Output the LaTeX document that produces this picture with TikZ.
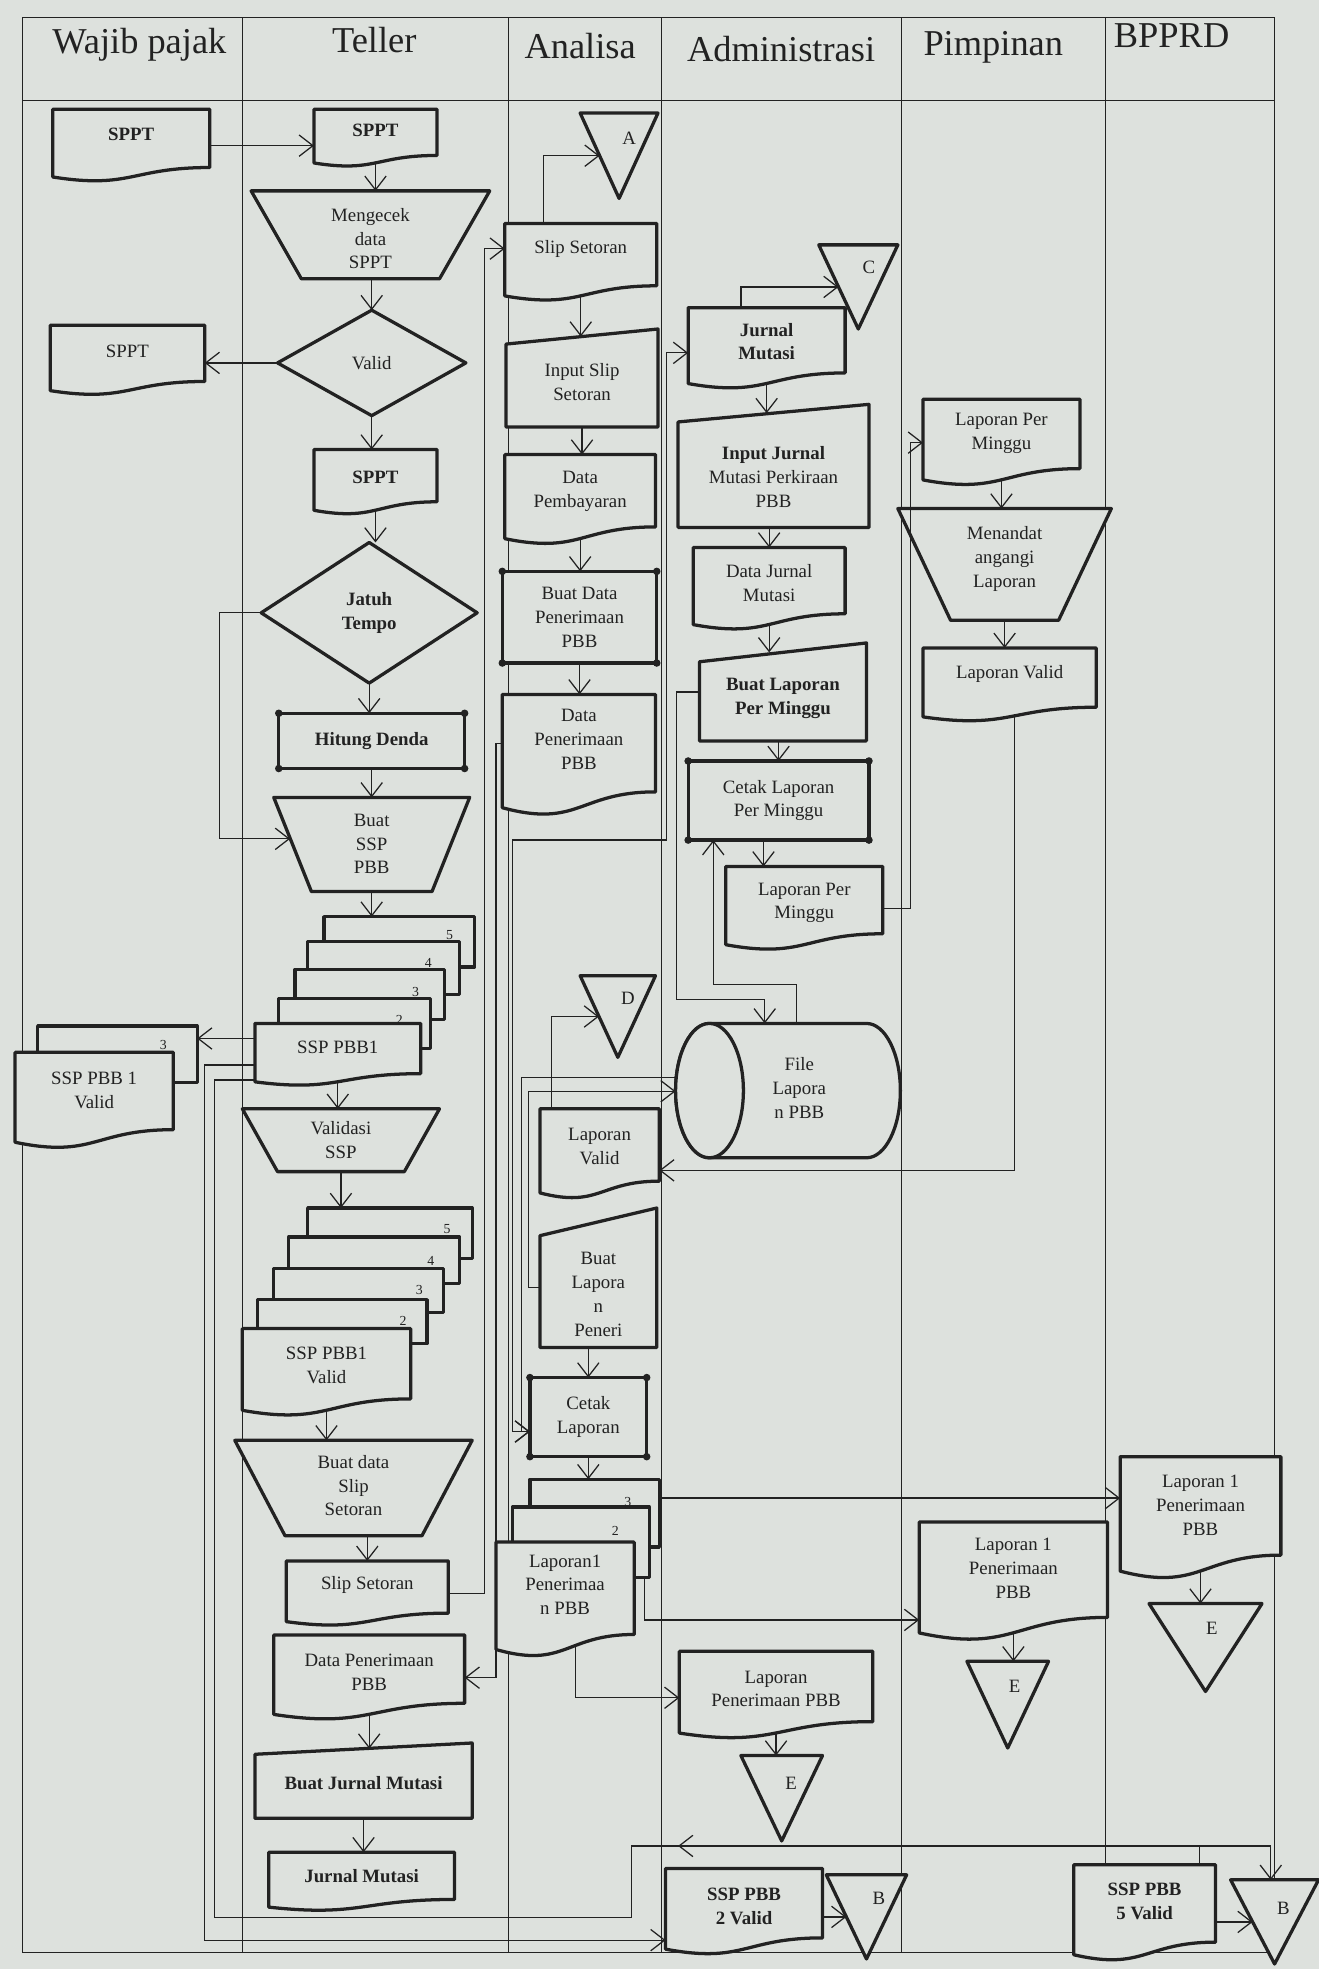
\documentclass[tikz,border=0pt]{standalone}
\usepackage{fontspec}
\setmainfont{Liberation Serif}
\usetikzlibrary{arrows.meta,calc}
\definecolor{paper}{RGB}{221,225,221}
\definecolor{ink}{RGB}{34,34,34}
\tikzset{
  shp/.style={draw=ink,line width=2.6pt,fill=paper,line join=round},
  fcbox/.style={rectangle,draw=none,inner sep=0pt,outer sep=0pt},
  txt/.style={align=center,inner sep=0pt,text=ink,font=\fontsize{15}{19}\selectfont},
  num/.style={inner sep=0pt,text=ink,font=\fontsize{11}{12}\selectfont},
  lane/.style={draw=ink,line width=0.7pt},
  conn/.style={draw=ink,line width=1pt},
  arr/.style={conn,-{Straight Barb[length=11pt,width=17pt]}},
  darr/.style={conn,{Straight Barb[length=11pt,width=17pt]}-{Straight Barb[length=11pt,width=17pt]}},
  lanetitle/.style={inner sep=0pt,text=ink,font=\fontsize{29}{32}\selectfont},
}
% document: name,x1,y1,x2,y2,text y,text
\newcommand\fcDoc[7]{%
  \pgfmathsetmacro\fcW{#4-#2}\pgfmathsetmacro\fcH{#5-#3}%
  \pgfmathsetmacro\fcCx{(#2+#4)/2}\pgfmathsetmacro\fcCy{(#3+#5)/2}%
  \path[shp] (#2,#3) -- (#4,#3) -- (#4,{#3+0.8*\fcH}) .. controls ({#2+0.5*\fcW},{#3+0.8*\fcH}) and ({#2+0.5*\fcW},{#3+1.1*\fcH}) .. (#2,{#3+0.93*\fcH}) -- cycle;
  \node[fcbox,minimum width=\fcW,minimum height=\fcH] (#1) at (\fcCx,\fcCy) {};
  \node[txt] (#1-t) at (\fcCx,#6) {#7};
  \coordinate (#1-b) at (\fcCx,{#3+0.93*\fcH});
}
% manual operation: name,x1,y1,x2,y2,inset,text y,text
\newcommand\fcTrap[8]{%
  \pgfmathsetmacro\fcW{#4-#2}\pgfmathsetmacro\fcH{#5-#3}%
  \pgfmathsetmacro\fcCx{(#2+#4)/2}\pgfmathsetmacro\fcCy{(#3+#5)/2}%
  \path[shp] (#2,#3) -- (#4,#3) -- ({#4-#6},#5) -- ({#2+#6},#5) -- cycle;
  \node[fcbox,minimum width=\fcW,minimum height=\fcH] (#1) at (\fcCx,\fcCy) {};
  \node[txt] (#1-t) at (\fcCx,#7) {#8};
}
% manual input: name,x1,y1,x2,y2,slant,text y,text
\newcommand\fcMan[8]{%
  \pgfmathsetmacro\fcW{#4-#2}\pgfmathsetmacro\fcH{#5-#3}%
  \pgfmathsetmacro\fcCx{(#2+#4)/2}\pgfmathsetmacro\fcCy{(#3+#5)/2}%
  \path[shp] (#2,{#3+#6}) -- (#4,#3) -- (#4,#5) -- (#2,#5) -- cycle;
  \node[fcbox,minimum width=\fcW,minimum height=\fcH] (#1) at (\fcCx,\fcCy) {};
  \node[txt] (#1-t) at (\fcCx,#7) {#8};
  \coordinate (#1-top) at (\fcCx,{#3+0.5*#6});
}
% predefined process: name,x1,y1,x2,y2,text
\newcommand\fcPre[6]{%
  \pgfmathsetmacro\fcW{#4-#2}\pgfmathsetmacro\fcH{#5-#3}%
  \pgfmathsetmacro\fcCx{(#2+#4)/2}\pgfmathsetmacro\fcCy{(#3+#5)/2}%
  \path[shp] (#2,#3) rectangle (#4,#5);
  \fill[ink] (#2,#3) circle (3);
  \fill[ink] (#4,#3) circle (3);
  \fill[ink] (#2,#5) circle (3);
  \fill[ink] (#4,#5) circle (3);
  \node[fcbox,txt,minimum width=\fcW,minimum height=\fcH] (#1) at (\fcCx,\fcCy) {#6};
}
% decision: name,cx,cy,half w,half h,text
\newcommand\fcDia[6]{%
  \pgfmathsetmacro\fcW{2*#4}\pgfmathsetmacro\fcH{2*#5}%
  \path[shp] ({#2-#4},#3) -- (#2,{#3-#5}) -- ({#2+#4},#3) -- (#2,{#3+#5}) -- cycle;
  \node[fcbox,txt,minimum width=\fcW,minimum height=\fcH] (#1) at (#2,#3) {#6};
}
% off-page connector: name,x1,y1,x2,y2,letter,lx,ly
\newcommand\fcTri[8]{%
  \pgfmathsetmacro\fcW{#4-#2}\pgfmathsetmacro\fcH{#5-#3}%
  \pgfmathsetmacro\fcCx{(#2+#4)/2}\pgfmathsetmacro\fcCy{(#3+#5)/2}%
  \path[shp] (#2,#3) -- (#4,#3) -- (\fcCx,#5) -- cycle;
  \node[fcbox,minimum width=\fcW,minimum height=\fcH] (#1) at (\fcCx,\fcCy) {};
  \node[txt] (#1-t) at (#7,#8) {#6};
  \coordinate (#1-l) at ({#2+0.5*(\fcCx-#2)},{#3+0.5*\fcH});
}
% back sheet: name,x1,y1,x2,y2
\newcommand\fcSheet[5]{%
  \pgfmathsetmacro\fcW{#4-#2}\pgfmathsetmacro\fcH{#5-#3}%
  \pgfmathsetmacro\fcCx{(#2+#4)/2}\pgfmathsetmacro\fcCy{(#3+#5)/2}%
  \path[shp] (#2,#3) rectangle (#4,#5);
  \node[fcbox,minimum width=\fcW,minimum height=\fcH] (#1) at (\fcCx,\fcCy) {};
}
% storage cylinder: name,x1,y1,x2,y2,rx,text
\newcommand\fcCyl[7]{%
  \pgfmathsetmacro\fcW{#4-#2}\pgfmathsetmacro\fcH{#5-#3}%
  \pgfmathsetmacro\fcCx{(#2+#4)/2}\pgfmathsetmacro\fcCy{(#3+#5)/2}%
  \pgfmathsetmacro\fcRy{(#5-#3)/2}%
  \path[shp] ({#2+#6},#3) -- ({#4-#6},#3) arc[start angle=-90,end angle=90,x radius=#6,y radius=\fcRy] -- ({#2+#6},#5) arc[start angle=90,end angle=270,x radius=#6,y radius=\fcRy] -- cycle;
  \path[shp] ({#2+#6},\fcCy) ellipse [x radius=#6,y radius=\fcRy];
  \node[fcbox,minimum width=\fcW,minimum height=\fcH] (#1) at (\fcCx,\fcCy) {};
  \node[txt] (#1-t) at ({\fcCx+9},{\fcCy-2}) {#7};
}
\begin{document}
\begin{tikzpicture}[x=1pt,y=-1pt]
\fill[paper] (0,0) rectangle (1050,1568);
\useasboundingbox (0,0) rectangle (1050,1568);
% lanes
\draw[lane] (18,14) rectangle (1015,1555);
\draw[lane] (18,80) -- (1015,80);
\foreach \lx in {193,405,527,718,880} \draw[lane] (\lx,14) -- (\lx,1555);
\node[lanetitle] (ttl1) at (111,36) {Wajib pajak};
\node[lanetitle] (ttl2) at (298,32) {Teller};
\node[lanetitle] (ttl3) at (462,37) {Analisa};
\node[lanetitle] (ttl4) at (622,39) {Administrasi};
\node[lanetitle] (ttl5) at (791,38) {Pimpinan};
\node[lanetitle] (ttl6) at (933,28) {BPPRD};

% Wajib pajak / Teller
\fcDoc{w1}{42}{87}{167}{145}{107}{\textbf{SPPT}}
\fcDoc{t1}{250}{87}{348}{133}{104}{\textbf{SPPT}}
\fcTrap{mengecek}{200}{152}{390}{222}{40}{190}{Mengecek\\data\\SPPT}
\fcDia{valid}{296}{289}{75}{42}{Valid}
\fcDoc{w2}{40}{259}{163}{315}{280}{SPPT}
\fcDoc{t2}{250}{358}{348}{410}{380}{\textbf{SPPT}}
\fcDia{jatuh}{294}{488}{86}{56}{\textbf{Jatuh}\\\textbf{Tempo}}
\fcPre{hitung}{222}{568}{370}{612}{\textbf{Hitung Denda}}
\fcTrap{buatssp}{218}{635}{374}{710}{30}{672}{Buat\\SSP\\PBB}
\fcSheet{ssp1s5}{258}{730}{378}{770}
\fcSheet{ssp1s4}{245}{750}{366}{792}
\fcSheet{ssp1s3}{235}{772}{354}{812}
\fcSheet{ssp1s2}{222}{795}{343}{835}
\fcDoc{ssp1}{203}{815}{335}{865}{834}{SSP PBB1}
\node[num] (ssp1n5) at (358,745) {5};
\node[num] (ssp1n4) at (341,767) {4};
\node[num] (ssp1n3) at (331,790) {3};
\node[num] (ssp1n2) at (318,812) {2};
\fcSheet{sspWs}{30}{817}{157}{862}
\fcDoc{sspW}{12}{838}{138}{915}{868}{SSP PBB 1\\Valid}
\node[num] (sspWn) at (130,832) {3};
\fcTrap{validasi}{193}{883}{350}{933}{28}{908}{Validasi\\SSP}
\fcSheet{ssp1vs5}{245}{962}{376}{1002}
\fcSheet{ssp1vs4}{230}{985}{366}{1022}
\fcSheet{ssp1vs3}{218}{1010}{353}{1045}
\fcSheet{ssp1vs2}{205}{1035}{340}{1070}
\fcDoc{ssp1v}{193}{1058}{327}{1128}{1087}{SSP PBB1\\Valid}
\node[num] (ssp1vn5) at (356,979) {5};
\node[num] (ssp1vn4) at (343,1004) {4};
\node[num] (ssp1vn3) at (334,1027) {3};
\node[num] (ssp1vn2) at (321,1052) {2};
\fcTrap{buatslip}{187}{1147}{376}{1223}{40}{1183}{Buat data\\Slip\\Setoran}
\fcDoc{slipT}{228}{1243}{357}{1295}{1262}{Slip Setoran}
\fcDoc{dataPenT}{218}{1302}{370}{1370}{1332}{Data Penerimaan\\PBB}
\fcMan{buatJM}{203}{1388}{376}{1448}{9}{1420}{\textbf{Buat Jurnal Mutasi}}
\fcDoc{jmT}{214}{1475}{362}{1522}{1494}{\textbf{Jurnal Mutasi}}

% Analisa
\fcTri{A}{462}{90}{524}{158}{A}{501}{110}
\fcDoc{slipA}{402}{178}{523}{240}{198}{Slip Setoran}
\fcMan{inputSlip}{403}{262}{524}{340}{12}{304}{Input Slip\\Setoran}
\fcDoc{dataBayar}{402}{362}{522}{434}{391}{Data\\Pembayaran}
\fcPre{buatDataPen}{400}{455}{523}{528}{Buat Data\\Penerimaan\\PBB}
\fcDoc{dataPenA}{400}{553}{522}{650}{589}{Data\\Penerimaan\\PBB}
\fcTri{D}{462}{777}{522}{842}{D}{500}{795}
\fcDoc{lapValidA}{430}{883}{525}{955}{913}{Laporan\\Valid}
\fcMan{buatLapPen}{430}{962}{523}{1073}{22}{1031}{Buat\\Lapora\\n\\Peneri}
\fcPre{cetakLap}{422}{1097}{515}{1160}{Cetak\\Laporan}
\fcSheet{lap1s3}{422}{1178}{525}{1232}
\fcSheet{lap1s2}{408}{1200}{517}{1256}
\fcDoc{lap1}{395}{1228}{505}{1320}{1262}{Laporan1\\Penerimaa\\n PBB}
\node[num] (lap1n3) at (500,1196) {3};
\node[num] (lap1n2) at (490,1219) {2};

% Administrasi
\fcTri{C}{652}{195}{715}{262}{C}{692}{213}
\fcDoc{jmA}{548}{245}{673}{310}{272}{\textbf{Jurnal}\\\textbf{Mutasi}}
\fcMan{inputJM}{540}{322}{692}{420}{14}{380}{\textbf{Input Jurnal}\\Mutasi Perkiraan\\PBB}
\fcDoc{dataJM}{552}{436}{673}{502}{464}{Data Jurnal\\Mutasi}
\fcMan{buatLapMing}{557}{512}{690}{590}{15}{556}{\textbf{Buat Laporan}\\\textbf{Per Minggu}}
\fcPre{cetakLapMing}{548}{606}{692}{669}{Cetak Laporan\\Per Minggu}
\fcDoc{lapMingA}{578}{690}{703}{757}{719}{Laporan Per\\Minggu}
\fcCyl{file}{538}{815}{717}{922}{27}{File\\Lapora\\n PBB}
\fcDoc{lapPenA}{541}{1315}{695}{1385}{1345}{Laporan\\Penerimaan PBB}
\fcTri{E1}{590}{1398}{655}{1466}{E}{630}{1420}
\fcDoc{ssp2}{530}{1488}{655}{1557}{1518}{\textbf{SSP PBB}\\\textbf{2 Valid}}
\fcTri{B1}{658}{1493}{722}{1560}{B}{700}{1512}

% Pimpinan
\fcDoc{lapMingP}{735}{318}{860}{387}{345}{Laporan Per\\Minggu}
\fcTrap{menandat}{715}{405}{885}{494}{42}{445}{Menandat\\angangi\\Laporan}
\fcDoc{lapValidP}{735}{516}{873}{575}{537}{Laporan Valid}
\fcDoc{lap1P}{732}{1212}{882}{1307}{1249}{Laporan 1\\Penerimaan\\PBB}
\fcTri{E2}{770}{1323}{835}{1392}{E}{808}{1343}

% BPPRD
\fcDoc{lap1B}{892}{1160}{1020}{1258}{1199}{Laporan 1\\Penerimaan\\PBB}
\fcTri{E3}{915}{1277}{1005}{1347}{E}{965}{1297}
\fcDoc{ssp5}{855}{1485}{968}{1562}{1514}{\textbf{SSP PBB}\\\textbf{5 Valid}}
\fcTri{B2}{980}{1497}{1050}{1564}{B}{1022}{1520}

% ---------- connectors: Teller ----------
\draw[arr] (w1.east) -- (w1.east -| t1.west);
\draw[arr] (t1-b) -- (t1-b |- mengecek.north);
\draw[arr] (mengecek.south -| valid.north) -- (valid.north);
\draw[arr] (valid.west) -- (valid.west -| w2.east);
\draw[arr] (valid.south) -- (valid.south |- t2.north);
\draw[arr] (t2-b) -- (t2-b |- jatuh.north);
\draw[arr] (jatuh.south) -- (jatuh.south |- hitung.north);
\coordinate (jt1) at (175,488);
\coordinate (jt2) at (231,668);
\draw[arr] (jatuh.west) -- (jt1) |- (jt2);
\draw[arr] (hitung.south) -- (hitung.south |- buatssp.north);
\draw[arr] (buatssp.south) -- (buatssp.south |- ssp1s5.north);
\coordinate (sp1) at ($(ssp1.north west)+(0,12)$);
\draw[arr] (sp1) -- (sp1 -| sspWs.east);
\draw[arr] (ssp1-b) -- (ssp1-b |- validasi.north);
\draw[arr] (validasi.south) -- (validasi.south |- ssp1vs5.north);
\draw[arr] (ssp1v-b) -- (ssp1v-b |- buatslip.north);
\draw[arr] (slipT.north |- buatslip.south) -- (slipT.north);
\coordinate (l1) at (386,198);
\draw[arr] (slipT.east) -| (l1) -- (l1 -| slipA.west);
\coordinate (l2) at (395,592);
\draw[arr] (l2 -| dataPenA.west) -- (l2) |- (dataPenT.east);
\draw[arr] (dataPenT-b) -- (dataPenT-b |- buatJM-top);
\draw[arr] (buatJM.south) -- (buatJM.south |- jmT.north);
\coordinate (sp2) at ($(ssp1.north west)+(0,33)$);
\coordinate (q2) at (163,1545);
\draw[arr] (sp2) -- (sp2 -| q2) -- (q2) -- (q2 -| ssp2.west);
\coordinate (sp3) at ($(ssp1.north west)+(0,45)$);
\coordinate (q3) at (171,1527);
\coordinate (q4) at (503,1470);
\coordinate (q5) at (1012,1470);
\draw[arr] (sp3) -- (sp3 -| q3) -- (q3) -| (q4) -- (q5) -- (q5 |- B2.north);
\coordinate (q6) at (955,1470);
\coordinate (q7) at (540,1470);
\draw[arr] (q6 |- ssp5.north) -- (q6) -- (q7);

% ---------- connectors: Analisa ----------
\coordinate (a1) at ($(slipA.north west)+(31,0)$);
\draw[arr] (a1) |- (A-l);
\draw[arr] (slipA-b) -- (slipA-b |- inputSlip-top);
\draw[arr] (inputSlip.south) -- (inputSlip.south |- dataBayar.north);
\draw[arr] (dataBayar-b) -- (dataBayar-b |- buatDataPen.north);
\draw[arr] (buatDataPen.south) -- (buatDataPen.south |- dataPenA.north);
\coordinate (j1) at ($(jmA.north west)+(-17,36)$);
\coordinate (j2) at (408,669);
\coordinate (cl) at ($(cetakLap.south west)+(0,-20)$);
\draw[darr] (j1 -| jmA.west) -- (j1) |- (j2) |- (cl);
\coordinate (f0) at ($(buatLapPen.north west)+(0,63)$);
\coordinate (f1) at (421,869);
\draw[arr] (f0) -| (f1) -- (f1 -| file.west);
\coordinate (f2) at (415,858);
\draw[arr] (f2 -| file.west) -- (f2) |- (cl);
\coordinate (d1) at ($(lapValidA.north west)+(9,0)$);
\draw[arr] (d1) |- (D-l);
\draw[arr] (cetakLap.north |- buatLapPen.south) -- (cetakLap.north);
\draw[arr] (cetakLap.south) -- (cetakLap.south |- lap1s3.north);
\coordinate (g0) at ($(lap1s3.north east)+(0,15)$);
\draw[arr] (g0) -- (g0 -| lap1B.west);
\coordinate (g1) at ($(lap1s2.south east)+(-4,0)$);
\coordinate (g2) at ($(lap1s2.south east)+(-4,34)$);
\draw[arr] (g1) -- (g2) -- (g2 -| lap1P.west);
\coordinate (g3) at ($(lap1.south west)+(63,-10)$);
\coordinate (g4) at ($(lap1.south west)+(63,32)$);
\draw[arr] (g3) -- (g4) -- (g4 -| lapPenA.west);
\draw[arr] (lapPenA-b) -- (lapPenA-b |- E1.north);
\draw[arr] (lap1P-b) -- (lap1P-b |- E2.north);
\draw[arr] (lap1B-b) -- (lap1B-b |- E3.north);
\draw[arr] (ssp2.east |- B1-l) -- (B1-l);
\draw[arr] (ssp5.east |- B2-l) -- (B2-l);

% ---------- connectors: Administrasi / Pimpinan ----------
\coordinate (c1) at ($(jmA.north west)+(42,0)$);
\draw[arr] (c1) |- (C-l);
\draw[arr] (jmA-b) -- (jmA-b |- inputJM-top);
\draw[arr] (dataJM.north |- inputJM.south) -- (dataJM.north);
\draw[arr] (dataJM-b) -- (dataJM-b |- buatLapMing-top);
\draw[arr] (cetakLapMing.north |- buatLapMing.south) -- (cetakLapMing.north);
\coordinate (cm1) at ($(cetakLapMing.south west)+(60,0)$);
\draw[arr] (cm1) -- (cm1 |- lapMingA.north);
\draw[arr] (lapMingA.east) -- ++(22,0) |- (lapMingP.west);
\draw[arr] (lapMingP-b) -- (lapMingP-b |- menandat.north);
\draw[arr] (menandat.south) -- (menandat.south |- lapValidP.north);
\coordinate (k1) at ($(lapValidP.south west)+(73,-4)$);
\coordinate (k2) at ($(lapValidP.south west)+(73,357)$);
\draw[arr] (k1) -- (k2) -- (k2 -| lapValidA.east);
\coordinate (m1) at (539,796);
\coordinate (m2) at ($(file.north west)+(71,0)$);
\draw[arr] (buatLapMing.west) -| (m1) -| (m2);
\coordinate (n1) at ($(file.north west)+(96,0)$);
\coordinate (n2) at ($(cetakLapMing.south west)+(20,0)$);
\draw[arr] (n1) -- ++(0,-31) -| (n2);
\end{tikzpicture}
\end{document}
